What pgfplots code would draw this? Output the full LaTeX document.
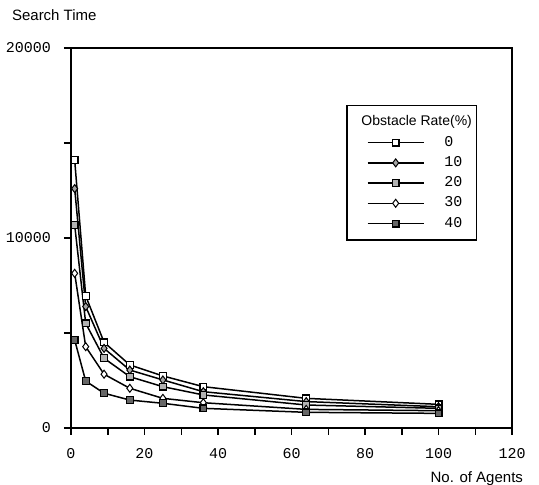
\documentclass[border=0pt]{standalone}
\usepackage{fontspec}
\setmainfont{Liberation Sans}
\setmonofont{Liberation Mono}
\usepackage{pgfplots}
\pgfplotsset{compat=1.18}
\usepackage{pgfplotstable}

% search time vs number of agents, one column per obstacle rate
\pgfplotstableread{
n    r0     r10    r20    r30   r40
1    14100  12600  10680  8140  4630
4    6950   6390   5510   4280  2470
9    4510   4190   3670   2830  1830
16   3320   3050   2700   2090  1470
25   2740   2530   2175   1560  1300
36   2175   1910   1740   1330  1035
64   1560   1390   1210   980   825
100  1245   1120   1035   910   770
}\searchtime

\begin{document}
\begin{tikzpicture}
\useasboundingbox (-35.5pt,-28.5pt) rectangle (234pt,214pt);
\begin{axis}[
  scale only axis, width=220.5pt, height=190pt,
  xmin=0, xmax=120, ymin=0, ymax=20000,
  xtick={0,20,...,120}, minor xtick={10,30,...,110},
  ytick={0,10000,20000}, minor ytick={5000,15000},
  tick pos=left, tick align=outside,
  major tick length=3.5pt, minor tick length=3.5pt,
  every tick/.style={black, line width=0.75pt},
  axis line style={line width=0.75pt},
  scaled ticks=false,
  /pgf/number format/1000 sep={},
  /pgf/number format/assume math mode=true,
  ticklabel style={font=\ttfamily\fontsize{7.5}{9}\selectfont},
  xticklabel style={yshift=-3pt},
  yticklabel style={xshift=-3pt},
  ylabel={Search Time},
  ylabel style={rotate=-90, at={(rel axis cs:0,1)}, anchor=west,
    xshift=-33pt, yshift=16.5pt, font=\fontsize{7.5}{9}\selectfont},
  xlabel={No. of Agents},
  xlabel style={at={(rel axis cs:1,0)}, anchor=east,
    xshift=9pt, yshift=-25.5pt, font=\fontsize{7.5}{9}\selectfont},
  clip=false,
  every axis plot/.append style={black, line width=0.75pt},
  legend style={at={(rel axis cs:0.624,0.85)}, anchor=north west,
    draw=black, line width=0.75pt, inner xsep=10pt, inner ysep=3pt,
    column sep=8pt, row sep=-0.4pt,
    font=\ttfamily\fontsize{7.5}{9}\selectfont,
    cells={anchor=west}},
  legend image code/.code={\draw[#1, mark repeat=2, mark phase=2]
    plot coordinates {(0pt,0pt) (14pt,0pt) (28pt,0pt)};},
]
\addlegendimage{empty legend}
\addlegendentry{\hspace*{-41.5pt}\makebox[42pt][l]{\rmfamily\fontsize{7}{9}\selectfont Obstacle Rate(\%)}}
\addplot[mark=square*, mark size=1.7pt, mark options={fill=white, line width=0.6pt}]
  table[x=n, y=r0] {\searchtime};
\addlegendentry{0\hspace*{-5pt}}
\addplot[mark=diamond*, mark size=2pt, mark options={fill=gray!70, line width=0.5pt}]
  table[x=n, y=r10] {\searchtime};
\addlegendentry{10\hspace*{-5pt}}
\addplot[mark=square*, mark size=1.7pt, mark options={fill=gray!60, line width=0.6pt}]
  table[x=n, y=r20] {\searchtime};
\addlegendentry{20\hspace*{-5pt}}
\addplot[mark=diamond*, mark size=2pt, mark options={fill=white, line width=0.5pt}]
  table[x=n, y=r30] {\searchtime};
\addlegendentry{30\hspace*{-5pt}}
\addplot[mark=square*, mark size=1.7pt, mark options={fill=gray!80!black, line width=0.6pt}]
  table[x=n, y=r40] {\searchtime};
\addlegendentry{40\hspace*{-5pt}}
\end{axis}
\end{tikzpicture}
\end{document}
